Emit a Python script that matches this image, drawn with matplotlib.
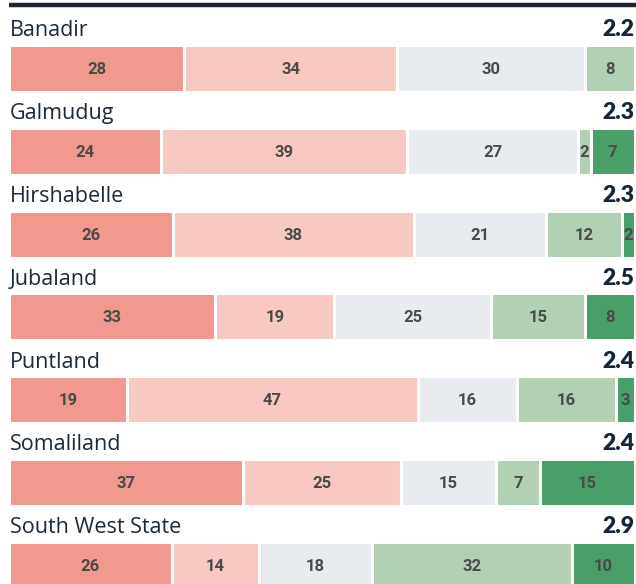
import matplotlib.pyplot as plt
import numpy as np

regions = ["Banadir", "Galmudug", "Hirshabelle", "Jubaland", "Puntland",
           "Somaliland", "South West State"]
scores = ["2.2", "2.3", "2.3", "2.5", "2.4", "2.4", "2.9"]
very_neg = [28, 24, 26, 33, 19, 37, 26]
neg = [34, 39, 38, 19, 47, 25, 14]
neutral = [30, 27, 21, 25, 16, 15, 18]
pos = [8, 2, 12, 15, 16, 7, 32]
very_pos = [0, 7, 2, 8, 3, 15, 10]

colors = ["#F1988F", "#F8C8C2", "#E8EBEF", "#B2D0B4", "#48A068"]
series = np.array([very_neg, neg, neutral, pos, very_pos], dtype=float)

fig = plt.figure(figsize=(6.36, 5.84), dpi=100)
ax = fig.add_axes([9 / 636, 0, 627 / 636, 1])
ax.set_xlim(0, 100.2)
ax.set_ylim(584, 0)
ax.axis("off")

# top rule
ax.plot([0, 100.2], [4.5, 4.5], color="#1B2633", lw=3.2, solid_capstyle="butt")

row_top = 45
row_step = 82.8
bar_h = 47

for i, name in enumerate(regions):
    top = row_top + i * row_step
    vals = series[:, i]
    widths = vals / vals.sum() * 100
    left = 0
    for w, v, c in zip(widths, vals, colors):
        if v > 0:
            ax.barh(top + bar_h / 2, w, left=left, height=bar_h, color=c,
                    edgecolor="white", linewidth=2.2)
            ax.text(left + w / 2, top + bar_h / 2 + 1, f"{int(v)}",
                    ha="center", va="center", fontsize=12, fontweight="bold",
                    color="#4A4A4A", family="Roboto")
        left += w
    ax.text(0.1, top - 8.5, name, ha="left", va="baseline", fontsize=15.5,
            color="#1B2A38", family="Open Sans")
    ax.text(100, top - 8.5, scores[i], ha="right", va="baseline", fontsize=16.5,
            fontweight="heavy", color="#15253A", family="Lato")

fig.savefig("out.png", dpi=100)
